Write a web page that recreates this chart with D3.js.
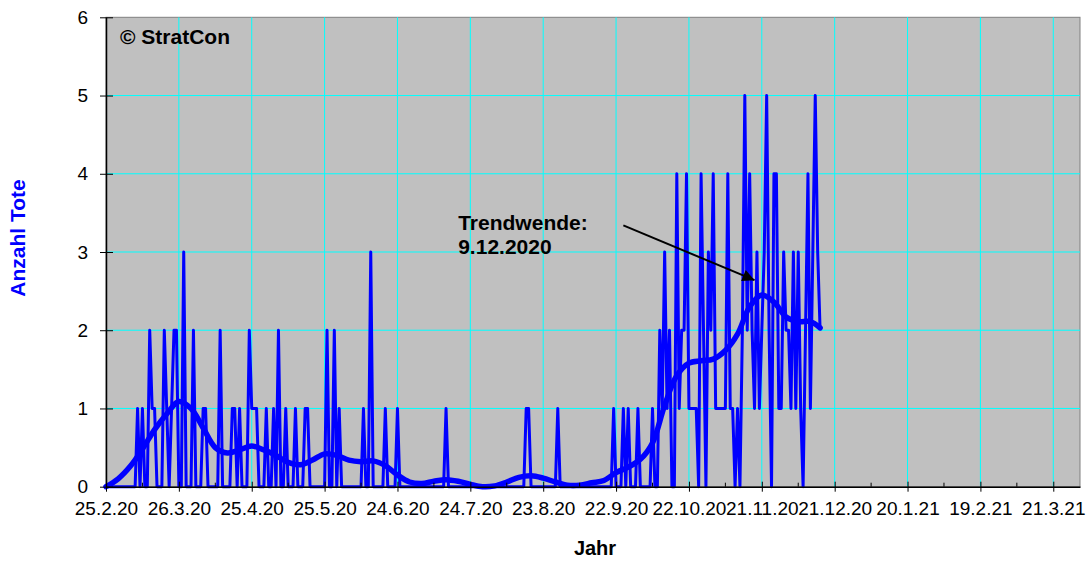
<!DOCTYPE html>
<html>
<head>
<meta charset="utf-8">
<script src="https://cdn.jsdelivr.net/npm/d3@7"></script>
<style>
  body { margin: 0; background: #fff; }
  svg { display: block; font-family: "Liberation Sans", Arial, sans-serif; }
</style>
</head>
<body>
<div id="chart"></div>
<script>
// daily deaths, one value per day starting 25.2.2020
var startDay = '25.2.20';
var deaths = [
  0,0,0,0,0,0,0,0,0,0,
  0,0,0,1,0,1,0,0,2,1,
  1,0,0,0,2,1,0,1,2,2,
  0,0,3,0,0,0,2,0,0,0,
  1,1,0,0,0,0,0,2,0,0,
  0,0,1,1,0,1,0,0,0,2,
  1,1,1,0,0,0,1,0,0,1,
  0,2,0,0,1,0,0,0,1,0,
  0,0,1,1,0,0,0,0,0,0,
  0,2,0,0,2,0,1,0,0,0,
  0,0,0,0,0,0,1,0,0,3,
  0,0,0,0,0,1,0,0,0,0,
  1,0,0,0,0,0,0,0,0,0,
  0,0,0,0,0,0,0,0,0,0,
  1,0,0,0,0,0,0,0,0,0,
  0,0,0,0,0,0,0,0,0,0,
  0,0,0,0,0,0,0,0,0,0,
  0,0,0,1,1,0,0,0,0,0,
  0,0,0,0,0,0,1,0,0,0,
  0,0,0,0,0,0,0,0,0,0,
  0,0,0,0,0,0,0,0,0,1,
  0,0,0,1,0,1,0,0,0,1,
  0,0,0,0,0,1,0,0,2,1,
  3,1,2,0,0,4,1,2,2,4,
  1,1,1,1,0,4,2,0,3,2,
  4,1,1,1,1,1,4,1,1,0,
  1,0,2,5,2,4,2,1,3,1,
  2,3,5,2,0,4,4,1,1,3,
  2,2,1,3,1,3,1,0,2,4,
  1,3,5,3,2
];

// smoothed trend, read every 5 days (day offset from start)
var trendDay = [0,5,10,15,20,25,30,35,40,45,50,55,60,65,70,75,80,85,90,95,
  100,105,110,115,120,125,130,135,140,145,150,155,160,165,170,175,180,185,190,195,
  200,205,210,215,220,225,230,235,240,245,250,255,260,265,270,275,280,285,290,294];
var trendValue = [0,0.1,0.26,0.48,0.73,0.93,1.09,1.0,0.75,0.5,0.43,0.47,0.52,0.47,0.4,0.31,0.28,0.34,0.42,0.4,
  0.34,0.32,0.33,0.27,0.15,0.06,0.04,0.07,0.09,0.07,0.03,0.0,0.01,0.06,0.12,0.14,0.11,0.06,0.02,0.02,
  0.05,0.08,0.18,0.25,0.35,0.56,1.04,1.42,1.58,1.61,1.63,1.74,1.95,2.3,2.45,2.36,2.17,2.11,2.11,2.03];

var xTickLabels = ['25.2.20','26.3.20','25.4.20','25.5.20','24.6.20','24.7.20','23.8.20',
  '22.9.20','22.10.20','21.11.20','21.12.20','20.1.21','19.2.21','21.3.21'];
var yTicks = [0,1,2,3,4,5,6];
var xEnd = '1.4.21';

var width = 1089, height = 562;
var plotLeft = 106, plotRight = 1080, plotTop = 17.3, plotBottom = 486.7;

var parse = d3.utcParse('%d.%m.%y');
var start = parse(startDay);
var dayDate = function(i) { return d3.utcDay.offset(start, i); };

var svg = d3.select('#chart').append('svg')
  .attr('width', width)
  .attr('height', height);

var x = d3.scaleUtc()
  .domain([start, parse(xEnd)])
  .range([plotLeft, plotRight]);

var y = d3.scaleLinear()
  .domain([0, 6])
  .range([plotBottom, plotTop]);

var xTicks = xTickLabels.map(parse);
var minorTicks = xTicks.map(function(d) { return d3.utcDay.offset(d, 15); })
  .filter(function(d) { return d < parse(xEnd); });

// plot background
svg.append('rect')
  .attr('x', plotLeft).attr('y', plotTop)
  .attr('width', plotRight - plotLeft).attr('height', plotBottom - plotTop)
  .attr('fill', '#c0c0c0')
  .attr('stroke', '#808080');

// gridlines
svg.append('g').selectAll('line')
  .data(yTicks.slice(1, -1))
  .enter().append('line')
  .attr('x1', plotLeft).attr('x2', plotRight)
  .attr('y1', function(d) { return y(d); })
  .attr('y2', function(d) { return y(d); })
  .attr('stroke', '#00ffff');

svg.append('g').selectAll('line')
  .data(xTicks.slice(1))
  .enter().append('line')
  .attr('x1', function(d) { return x(d); })
  .attr('x2', function(d) { return x(d); })
  .attr('y1', plotTop).attr('y2', plotBottom)
  .attr('stroke', '#00ffff');

// raw daily line
var rawLine = d3.line()
  .x(function(d, i) { return x(dayDate(i)); })
  .y(function(d) { return y(d); });

svg.append('path')
  .datum(deaths)
  .attr('d', rawLine)
  .attr('fill', 'none')
  .attr('stroke', '#0000ff')
  .attr('stroke-width', 3)
  .attr('stroke-linejoin', 'round');

// trend
var trendLine = d3.line()
  .x(function(d, i) { return x(dayDate(trendDay[i])); })
  .y(function(d) { return y(d); })
  .curve(d3.curveCatmullRom);

svg.append('path')
  .datum(trendValue)
  .attr('d', trendLine)
  .attr('fill', 'none')
  .attr('stroke', '#0000ff')
  .attr('stroke-width', 5.5)
  .attr('stroke-linecap', 'round');

// axes
var xAxis = svg.append('g')
  .attr('transform', 'translate(0,' + plotBottom + ')')
  .call(d3.axisBottom(x)
    .tickValues(xTicks)
    .tickFormat(function(d, i) { return xTickLabels[i]; })
    .tickSizeInner(5)
    .tickSizeOuter(0)
    .tickPadding(10));
xAxis.selectAll('.tick line').attr('y1', -5);
xAxis.append('g').selectAll('line')
  .data(minorTicks)
  .enter().append('line')
  .attr('x1', function(d) { return x(d); })
  .attr('x2', function(d) { return x(d); })
  .attr('y1', -4).attr('y2', 0)
  .attr('stroke', '#000');

var yAxis = svg.append('g')
  .attr('transform', 'translate(' + plotLeft + ',0)')
  .call(d3.axisLeft(y)
    .tickValues(yTicks)
    .tickFormat(d3.format('d'))
    .tickSizeInner(6)
    .tickSizeOuter(0)
    .tickPadding(12));
yAxis.selectAll('.tick line').attr('x1', 7);

svg.selectAll('.domain').attr('stroke', '#000').attr('stroke-width', 1.5);
svg.selectAll('.tick text')
  .attr('font-size', 19)
  .attr('font-family', '"Liberation Sans", Arial, sans-serif')
  .attr('fill', '#000');

// axis titles
svg.append('text')
  .attr('transform', 'translate(25,238) rotate(-90)')
  .attr('text-anchor', 'middle')
  .attr('font-size', 21)
  .attr('font-weight', 'bold')
  .attr('fill', '#0000ff')
  .text('Anzahl Tote');

svg.append('text')
  .attr('x', (plotLeft + plotRight) / 2 + 2)
  .attr('y', 555)
  .attr('text-anchor', 'middle')
  .attr('font-size', 20)
  .attr('font-weight', 'bold')
  .text('Jahr');

// copyright
svg.append('text')
  .attr('x', plotLeft + 14)
  .attr('y', plotTop + 27)
  .attr('font-size', 21)
  .attr('font-weight', 'bold')
  .text('\u00a9 StratCon');

// annotation
svg.append('defs').append('marker')
  .attr('id', 'arrow')
  .attr('viewBox', '0 0 10 10')
  .attr('refX', 10).attr('refY', 5)
  .attr('markerWidth', 8).attr('markerHeight', 6)
  .attr('markerUnits', 'strokeWidth')
  .attr('orient', 'auto')
  .append('path')
  .attr('d', 'M0,0L10,5L0,10Z')
  .attr('fill', '#000');

svg.append('line')
  .attr('x1', x(dayDate(213))).attr('y1', y(3.34))
  .attr('x2', x(dayDate(267))).attr('y2', y(2.64))
  .attr('stroke', '#000')
  .attr('stroke-width', 2)
  .attr('marker-end', 'url(#arrow)');

var note = svg.append('text')
  .attr('x', x(dayDate(145)))
  .attr('y', y(3.28))
  .attr('font-size', 21)
  .attr('font-weight', 'bold');
note.append('tspan').text('Trendwende:');
note.append('tspan').attr('x', x(dayDate(145))).attr('dy', 24).text('9.12.2020');
</script>
</body>
</html>
